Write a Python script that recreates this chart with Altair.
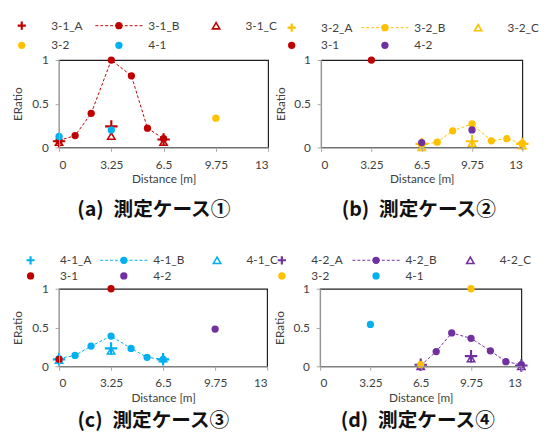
import altair as alt
import pandas as pd

# ---------------- data ----------------
C31 = "#C00000"
C32 = "#FFC000"
C41 = "#00B0F0"
C42 = "#7030A0"

x_b_left = [0, 1, 2, 3.25, 4.5, 5.5, 6.5]
x_b_right = [6.5, 7.5, 8.5, 9.75, 11, 12, 13]
x_ac_left = [0, 3.25, 6.5]
x_ac_right = [6.5, 9.75, 13]

# (a) case 1
a_B = [0.08, 0.135, 0.39, 1.0, 0.82, 0.22, 0.10]
a_A = [0.07, 0.24, 0.09]
a_C = [0.06, 0.13, 0.06]
a_32_x = [9.75]
a_32_y = [0.335]
a_41_x = [0, 3.25]
a_41_y = [0.125, 0.20]

# (b) case 2
b_B = [0.03, 0.06, 0.19, 0.27, 0.075, 0.10, 0.045]
b_A = [0.04, 0.07, 0.04]
b_C = [0.0, 0.05, 0.02]
b_31_x = [3.25]
b_31_y = [1.0]
b_42_x = [6.5, 9.75]
b_42_y = [0.055, 0.20]

# (c) case 3
c_B = [0.10, 0.14, 0.26, 0.39, 0.23, 0.115, 0.09]
c_A = [0.09, 0.23, 0.09]
c_C = [0.08, 0.20, 0.10]
c_31_x = [0, 3.25]
c_31_y = [0.09, 1.0]
c_42_x = [9.75]
c_42_y = [0.48]

# (d) case 4
d_B = [0.01, 0.19, 0.43, 0.36, 0.20, 0.06, 0.02]
d_A = [0.02, 0.13, 0.01]
d_C = [0.0, 0.10, 0.0]
d_32_x = [6.5, 9.75]
d_32_y = [0.02, 1.0]
d_41_x = [3.25]
d_41_y = [0.54]

x_ticks = [0, 3.25, 6.5, 9.75, 13]
y_ticks = [0, 0.5, 1]

captions = ["(a)\u2002測定ケース①", "(b)\u2002測定ケース②",
            "(c)\u2002測定ケース③", "(d)\u2002測定ケース④"]

FONT = "Lato"
TXT = "#404040"
PLUS = "M-1,0H1M0,-1V1"


def df(xs, ys):
    return pd.DataFrame({"x": xs, "y": ys})


def plot_panel(color, bx, by, acx, ay, cy, others, caption, width, height, cap_dx, cap_off):
    xe = alt.X("x:Q", scale=alt.Scale(domain=[0, 13], nice=False, zero=False),
               axis=alt.Axis(values=x_ticks, labelExpr="datum.value", title="Distance [m]",
                             grid=False, domainColor="#A6A6A6", tickColor="#A6A6A6",
                             tickSize=4, labelPadding=8, titlePadding=4,
                             labelFont=FONT, titleFont=FONT, labelFontSize=12, titleFontSize=12,
                             titleFontWeight="normal", labelColor=TXT, titleColor=TXT,
                             zindex=1))
    ye = alt.Y("y:Q", scale=alt.Scale(domain=[0, 1], nice=False),
               axis=alt.Axis(values=y_ticks, labelExpr="datum.value", title="ERatio",
                             grid=False, domainColor="#A6A6A6", tickColor="#A6A6A6",
                             tickSize=4, labelPadding=7, titlePadding=7,
                             labelFont=FONT, titleFont=FONT, labelFontSize=12, titleFontSize=12,
                             titleFontWeight="normal", labelColor=TXT, titleColor=TXT,
                             zindex=1))
    layers = []
    bdf = df(bx, by)
    layers.append(alt.Chart(bdf).mark_line(color=color, strokeDash=[3, 2], strokeWidth=1)
                  .encode(x=xe, y=ye))
    layers.append(alt.Chart(bdf).mark_circle(color=color, size=55, opacity=1)
                  .encode(x=xe, y=ye))
    layers.append(alt.Chart(df(acx, cy)).mark_point(shape="triangle-up", color=color, size=55,
                                                    strokeWidth=1.6, filled=False, opacity=1)
                  .encode(x=xe, y=ye))
    layers.append(alt.Chart(df(acx, ay)).mark_point(shape=PLUS, color=color, size=160,
                                                    strokeWidth=2.2, filled=False, opacity=1)
                  .encode(x=xe, y=ye))
    for ocol, ox, oy in others:
        layers.append(alt.Chart(df(ox, oy)).mark_circle(color=ocol, size=55, opacity=1)
                      .encode(x=xe, y=ye))
    return alt.layer(*layers).properties(
        width=width, height=height,
        title=alt.TitleParams(caption, orient="bottom", anchor="middle", fontSize=20,
                              font="Noto Sans CJK JP", fontWeight="bold", color="#111111",
                              offset=cap_off, dx=cap_dx),
    )


def legend_panel(name, color, others, width, height, x0, dx, r0, r1):
    ldf = pd.DataFrame({
        "col": [0, 1, 2, 0, 1],
        "row": [0, 0, 0, 1, 1],
        "label": [name + "_A", name + "_B", name + "_C", others[0][0], others[1][0]],
        "kind": ["A", "B", "C", "O", "O"],
        "color": [color, color, color, others[0][1], others[1][1]],
    })
    xe = alt.X("col:Q", scale=alt.Scale(domain=[0, 2], range=[x0, x0 + 2 * dx]), axis=None)
    ye = alt.Y("row:Q", scale=alt.Scale(domain=[0, 1], range=[r0, r1]), axis=None)
    ce = alt.Color("color:N", scale=None)
    base = alt.Chart(ldf)
    text = base.mark_text(align="left", baseline="middle", dx=30, font=FONT, fontSize=12,
                          color=TXT).encode(x=xe, y=ye, text="label:N")
    rule = base.transform_filter("datum.kind == 'B'").mark_rule(
        strokeDash=[3, 2], strokeWidth=1, xOffset=-24, x2Offset=24).encode(
        x=xe, x2="col:Q", y=ye, color=ce)
    circ = base.transform_filter("datum.kind == 'B' || datum.kind == 'O'").mark_circle(
        size=55, opacity=1).encode(x=xe, y=ye, color=ce)
    plus = base.transform_filter("datum.kind == 'A'").mark_point(
        shape=PLUS, size=70, strokeWidth=2.2, filled=False, opacity=1).encode(x=xe, y=ye, color=ce)
    tri = base.transform_filter("datum.kind == 'C'").mark_point(
        shape="triangle-up", size=55, strokeWidth=1.6, filled=False, opacity=1).encode(
        x=xe, y=ye, color=ce)
    return alt.layer(rule, circ, plus, tri, text).properties(
        width=width, height=height, view=alt.ViewConfig(stroke=None))


WA, WB, WC, WD = 213, 205, 212, 205
HT, HB = 89, 79

legA = legend_panel("3-1", C31, [("3-2", C32), ("4-1", C41)], WA, 42, -38, 99, 14, 34)
legB = legend_panel("3-2", C32, [("3-1", C31), ("4-2", C42)], WB, 42, -30, 95, 16, 34)
legC = legend_panel("4-1", C41, [("3-1", C31), ("4-2", C42)], WC, 61, -29, 95, 40, 56)
legD = legend_panel("4-2", C42, [("3-2", C32), ("4-1", C41)], WD, 61, -39, 96, 40, 56)

pA = plot_panel(C31, x_b_left, a_B, x_ac_left, a_A, a_C,
                [(C32, a_32_x, a_32_y), (C41, a_41_x, a_41_y)], captions[0], WA, HT, -10, 16)
pB = plot_panel(C32, x_b_right, b_B, x_ac_right, b_A, b_C,
                [(C31, b_31_x, b_31_y), (C42, b_42_x, b_42_y)], captions[1], WB, HT, -3, 16)
pC = plot_panel(C41, x_b_left, c_B, x_ac_left, c_A, c_C,
                [(C31, c_31_x, c_31_y), (C42, c_42_x, c_42_y)], captions[2], WC, HB, -10, 8)
pD = plot_panel(C42, x_b_right, d_B, x_ac_right, d_A, d_C,
                [(C32, d_32_x, d_32_y), (C41, d_41_x, d_41_y)], captions[3], WD, HB, -3, 8)

GAP = 54
chart = alt.vconcat(
    alt.hconcat(legA, legB, spacing=GAP, bounds="flush"),
    alt.hconcat(pA, pB, spacing=GAP, bounds="flush"),
    alt.hconcat(legC, legD, spacing=GAP, bounds="flush"),
    alt.hconcat(pC, pD, spacing=GAP, bounds="flush"),
    spacing=0,
).properties(
    padding={"left": 3, "top": 0, "right": 0, "bottom": 0},
    background="white",
).configure_view(
    stroke="#202020", strokeWidth=1.2,
)

chart.save("out.html", embed_options={"renderer": "svg", "actions": False})
